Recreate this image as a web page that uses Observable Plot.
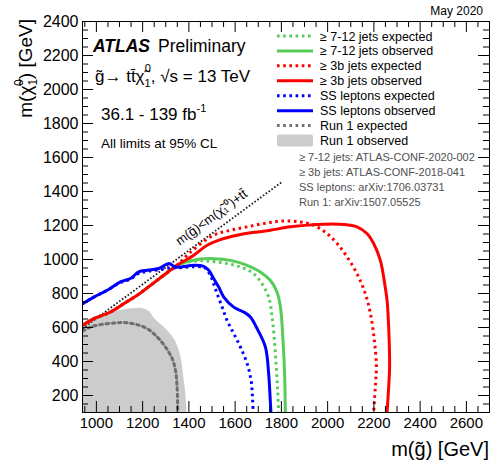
<!DOCTYPE html>
<html><head><meta charset="utf-8">
<script src="https://cdn.jsdelivr.net/npm/d3@7"></script>
<script src="https://cdn.jsdelivr.net/npm/@observablehq/plot@0.6"></script>
<style>
html,body{margin:0;padding:0;background:#fff;}
svg{display:block;}
</style></head>
<body><div id="chart"></div>
<script>
// ---- Data (m(gluino), m(neutralino)) in GeV ----
const xMajor = [1000,1200,1400,1600,1800,2000,2200,2400,2600];
const yMajor = [200,400,600,800,1000,1200,1400,1600,1800,2000,2200,2400];

const run1Obs = [[940,610],[990,650],[1075,690],[1150,710],[1200,712],[1230,692],[1250,655],[1305,585],[1340,525],[1365,430],[1378,310],[1388,190],[1392,100]];
const run1Exp = [[940,579],[975,603],[1018,617],[1075,626],[1118,629],[1169,619],[1220,593],[1263,544],[1299,485],[1328,417],[1342,348],[1349,250],[1352,100]];

const kinLine = [[940,594],[1806,1460]];

const jets712Obs = [[940,613],[989,652],[1061,691],[1118,740],[1176,789],[1234,848],[1291,907],[1349,966],[1435,1000],[1507,1005],[1580,995],[1652,966],[1709,927],[1752,878],[1781,809],[1796,720],[1807,524],[1814,328],[1817,100]];
const jets712Exp = [[940,613],[989,652],[1061,691],[1118,740],[1176,789],[1234,848],[1291,907],[1349,966],[1435,992],[1479,990],[1550,980],[1623,956],[1680,917],[1716,858],[1745,779],[1760,662],[1770,524],[1778,367],[1784,230],[1788,100]];

const b3Obs = [[940,613],[989,652],[1061,691],[1118,740],[1176,789],[1234,848],[1291,907],[1349,966],[1421,1025],[1479,1084],[1536,1117],[1609,1143],[1695,1162],[1752,1172],[1839,1192],[1954,1206],[2069,1206],[2127,1192],[2170,1153],[2199,1094],[2228,995],[2249,838],[2257,760],[2264,603],[2268,367],[2264,249],[2257,100]];
const b3Exp = [[940,613],[989,652],[1061,691],[1118,740],[1176,789],[1234,848],[1291,907],[1349,966],[1407,1043],[1507,1143],[1580,1172],[1652,1192],[1738,1215],[1810,1227],[1882,1221],[1940,1202],[1997,1153],[2041,1094],[2084,1015],[2127,917],[2163,799],[2185,682],[2202,524],[2211,367],[2206,249],[2199,100]];

const ssObs = [[940,740],[989,779],[1047,819],[1104,868],[1147,888],[1183,927],[1220,937],[1270,947],[1313,976],[1342,956],[1364,956],[1421,966],[1464,960],[1486,937],[1507,888],[1529,838],[1551,779],[1594,720],[1637,691],[1666,662],[1695,593],[1731,485],[1745,328],[1752,171],[1755,100]];
const ssExp = [[940,740],[989,779],[1047,819],[1104,865],[1147,885],[1183,918],[1220,930],[1270,940],[1313,950],[1342,952],[1364,952],[1421,958],[1464,955],[1472,947],[1493,907],[1507,858],[1522,799],[1544,720],[1565,642],[1594,564],[1623,485],[1652,387],[1669,289],[1675,190],[1678,100]];

const legendLabels = ["\u2265 7-12 jets expected","\u2265 7-12 jets observed","\u2265 3b jets expected","\u2265 3b jets observed","SS leptons expected","SS leptons observed","Run 1 expected","Run 1 observed"];
const refLabels = ["\u2265 7-12 jets: ATLAS-CONF-2020-002","\u2265 3b jets: ATLAS-CONF-2018-041","SS leptons: arXiv:1706.03731","Run 1: arXiv:1507.05525"];
const diagLabel = [{x:1350, y:1100, text:"m(g\u0303)<m(\u03C7\u0303\u2081\u2070)+tt\u0304"}];

// ---- Styling ----
const GREEN = "#55cc55", RED = "#ff0000", BLUE = "#0000ff", GREYL = "#6e6e6e", GREYF = "#cccccc";
const W = 491, H = 463, mL = 82, mR = 2, mT = 21, mB = 51;
const pw = W - mL - mR, ph = H - mT - mB;
const xMinor = d3.range(950, 2701, 50).filter(v => !xMajor.includes(v));
const yMinor = d3.range(100, 2401, 50).filter(v => !yMajor.includes(v));
const DOT = "2.6,3.6";
const xy = {x: d => d[0], y: d => d[1]};
const lineOpts = (stroke, dashed) => ({...xy, stroke, strokeWidth: 3, strokeDasharray: dashed ? DOT : null, strokeLinecap: "butt", curve: "catmull-rom", clip: true});

const chart = Plot.plot({
  width: W, height: H,
  marginLeft: mL, marginRight: mR, marginTop: mT, marginBottom: mB,
  x: {domain: [940, 2700]},
  y: {domain: [100, 2400]},
  style: {fontFamily: "'Liberation Sans', Arial, sans-serif", fontSize: "15px", background: "#fff", color: "#000"},
  marks: [
    Plot.areaY(run1Obs, {x: d => d[0], y1: 100, y2: d => d[1], fill: GREYF, curve: "catmull-rom", clip: true}),
    Plot.line(run1Exp, {...xy, stroke: GREYL, strokeWidth: 3, strokeDasharray: DOT, curve: "catmull-rom", clip: true}),
    Plot.line(kinLine, {...xy, stroke: "#1a1a1a", strokeWidth: 1.8, strokeDasharray: "1.6,1.9", strokeLinecap: "butt", clip: true}),
    Plot.text(diagLabel, {x: "x", y: "y", text: "text", rotate: -36.3, textAnchor: "start", fontSize: 13, fill: "#000"}),
    Plot.line(jets712Exp, lineOpts(GREEN, true)),
    Plot.line(jets712Obs, lineOpts(GREEN, false)),
    Plot.line(b3Exp, lineOpts(RED, true)),
    Plot.line(b3Obs, lineOpts(RED, false)),
    Plot.line(ssExp, lineOpts(BLUE, true)),
    Plot.line(ssObs, lineOpts(BLUE, false)),
    // inside ticks on four sides
    Plot.ruleX(xMajor, {insetTop: ph - 11, stroke: "#000"}),
    Plot.ruleX(xMinor, {insetTop: ph - 6, stroke: "#000"}),
    Plot.ruleX(xMajor, {insetBottom: ph - 11, stroke: "#000"}),
    Plot.ruleX(xMinor, {insetBottom: ph - 6, stroke: "#000"}),
    Plot.ruleY(yMajor, {insetRight: pw - 11, stroke: "#000"}),
    Plot.ruleY(yMinor, {insetRight: pw - 6, stroke: "#000"}),
    Plot.ruleY(yMajor, {insetLeft: pw - 11, stroke: "#000"}),
    Plot.ruleY(yMinor, {insetLeft: pw - 6, stroke: "#000"}),
    Plot.axisX({ticks: xMajor, tickSize: 0, tickPadding: 5, label: null, tickFormat: d => String(d), fontSize: 15}),
    Plot.axisY({ticks: yMajor, tickSize: 0, tickPadding: 4, label: null, tickFormat: d => String(d), fontSize: 16}),
    Plot.frame({stroke: "#000", strokeWidth: 1})
  ]
});
document.getElementById("chart").appendChild(chart);

// ---- Annotations, legend and axis titles ----
const svg = d3.select(chart);
const F = "'Liberation Sans', Arial, sans-serif";
const g = svg.append("g").attr("font-family", F).attr("text-anchor", "start").attr("fill", "#000");

// axis titles
g.append("text").attr("x", 489).attr("y", 456).attr("text-anchor", "end").attr("font-size", 20).text("m(g\u0303) [GeV]");
const yt = g.append("text").attr("transform", "translate(32,19) rotate(-90)").attr("text-anchor", "end").attr("font-size", 19);
yt.append("tspan").text("m(\u03C7\u0303");
yt.append("tspan").attr("font-size", 12).attr("dy", 5).text("1");
yt.append("tspan").attr("font-size", 12).attr("dx", -7).attr("dy", -14).text("0");
yt.append("tspan").attr("dy", 9).text(") [GeV]");

// May 2020
g.append("text").attr("x", 483).attr("y", 15).attr("text-anchor", "end").attr("font-size", 12).text("May 2020");

// ATLAS block
const t1 = g.append("text").attr("x", 93).attr("y", 52).attr("font-size", 17.5);
t1.append("tspan").attr("font-weight", "bold").attr("font-style", "italic").text("ATLAS");
t1.append("tspan").attr("dx", 8).text("Preliminary");
const t2 = g.append("text").attr("x", 95).attr("y", 82).attr("font-size", 17);
t2.append("tspan").text("g\u0303\u2192 tt\u0304\u03C7\u0303");
t2.append("tspan").attr("font-size", 11).attr("dy", 5).text("1");
t2.append("tspan").attr("font-size", 11).attr("dx", -6).attr("dy", -15).text("0");
t2.append("tspan").attr("dy", 10).text(", \u221As = 13 TeV");
const t3 = g.append("text").attr("x", 101).attr("y", 120).attr("font-size", 17);
t3.append("tspan").text("36.1 - 139 fb");
t3.append("tspan").attr("font-size", 11).attr("dy", -8).text("-1");
g.append("text").attr("x", 101).attr("y", 148).attr("font-size", 13.5).text("All limits at 95% CL");

// legend
const legStyles = [
  {c: GREEN, d: true}, {c: GREEN, d: false}, {c: RED, d: true}, {c: RED, d: false},
  {c: BLUE, d: true}, {c: BLUE, d: false}, {c: GREYL, d: true}, {c: GREYF, fill: true}
];
legendLabels.forEach((lab, i) => {
  const cy = 36 + i * 14.93;
  const s = legStyles[i];
  if (s.fill) {
    g.append("rect").attr("x", 277).attr("y", cy - 6).attr("width", 36).attr("height", 12).attr("rx", 2).attr("fill", s.c);
  } else {
    g.append("line").attr("x1", 277).attr("x2", 313).attr("y1", cy).attr("y2", cy)
      .attr("stroke", s.c).attr("stroke-width", 3).attr("stroke-dasharray", s.d ? DOT : null);
  }
  g.append("text").attr("x", 320).attr("y", cy).attr("dy", "0.36em").attr("font-size", 12.5).text(lab);
});
refLabels.forEach((lab, i) => {
  g.append("text").attr("x", 299).attr("y", 157.5 + i * 14.9).attr("dy", "0.36em").attr("font-size", 11).attr("fill", "#505050").text(lab);
});
</script></body></html>
